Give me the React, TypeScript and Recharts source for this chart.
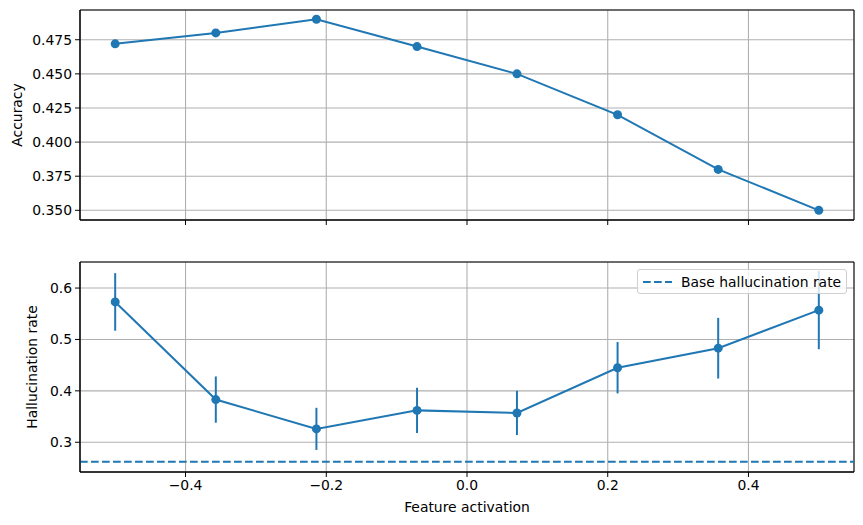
import React from 'react';
import {
  LineChart,
  Line,
  XAxis,
  YAxis,
  CartesianGrid,
  ErrorBar,
  ReferenceLine,
  ReferenceArea,
  Legend,
} from 'recharts';

const featureActivation = [-0.5, -0.357, -0.214, -0.071, 0.071, 0.214, 0.357, 0.5];
const accuracy = [0.472, 0.48, 0.49, 0.47, 0.45, 0.42, 0.38, 0.35];
const hallucinationRate = [0.573, 0.383, 0.326, 0.362, 0.357, 0.445, 0.483, 0.557];
const hallucinationErr = [0.056, 0.045, 0.041, 0.044, 0.043, 0.05, 0.059, 0.076];
const baseHallucinationRate = 0.262;

const xTicks = [-0.4, -0.2, 0, 0.2, 0.4];
const accuracyTicks = [0.35, 0.375, 0.4, 0.425, 0.45, 0.475];
const hallucinationTicks = [0.3, 0.4, 0.5, 0.6];

const xDomain: [number, number] = [-0.55, 0.55];
const accDomain: [number, number] = [0.3429, 0.4968];
const halDomain: [number, number] = [0.2421, 0.6507];

const topData = featureActivation.map((x, i) => ({ x, accuracy: accuracy[i] }));
const bottomData = featureActivation.map((x, i) => ({
  x,
  rate: hallucinationRate[i],
  err: hallucinationErr[i],
}));

const BLUE = '#1f77b4';
const FONT = 'DejaVu Sans, sans-serif';
const FS = 13.9;
const tickStyle = { fill: '#000', fontSize: FS, fontFamily: FONT };

const fmtX = (v: number) => v.toFixed(1).replace('-', '\u2212');

const LegendBox = () => (
  <div
    style={{
      width: 210,
      height: 25,
      border: '1px solid #d0d0d0',
      borderRadius: 3,
      background: 'rgba(255,255,255,0.8)',
      display: 'flex',
      alignItems: 'center',
      fontFamily: FONT,
      fontSize: FS,
      color: '#000',
      boxSizing: 'border-box',
    }}
  >
    <svg width={42} height={10} style={{ marginLeft: 4 }}>
      <line x1={1} y1={5} x2={30} y2={5} stroke={BLUE} strokeWidth={2} strokeDasharray="7.7 3.3" />
    </svg>
    <span style={{ marginLeft: -3 }}>Base hallucination rate</span>
  </div>
);

export default function App() {
  return (
    <div style={{ position: 'absolute', left: 0, top: 0, width: 863, height: 525, background: '#fff' }}>
      <div style={{ position: 'absolute', left: 0, top: 0 }}>
        <LineChart width={863} height={250} data={topData} margin={{ top: 10, right: 9, left: 0, bottom: 0 }}>
          <CartesianGrid stroke="#b0b0b0" strokeWidth={1.1} />
          <XAxis
            dataKey="x"
            type="number"
            domain={xDomain}
            ticks={xTicks}
            allowDataOverflow
            height={30}
            tickSize={5}
            axisLine={{ stroke: '#000' }}
            tickLine={{ stroke: '#000' }}
            tick={() => <g />}
          />
          <YAxis
            type="number"
            domain={accDomain}
            ticks={accuracyTicks}
            allowDataOverflow
            width={80}
            tickSize={5}
            tickMargin={3}
            axisLine={{ stroke: '#000' }}
            tickLine={{ stroke: '#000' }}
            tick={tickStyle}
            tickFormatter={(v: number) => v.toFixed(3)}
            label={{ value: 'Accuracy', angle: -90, position: 'center', dx: -23, style: { fill: '#000', fontSize: FS, fontFamily: FONT } }}
          />
          <ReferenceArea x1={xDomain[0]} x2={xDomain[1]} y1={accDomain[0]} y2={accDomain[1]} fill="none" stroke="#000" strokeWidth={1} ifOverflow="visible" />
          <Line
            dataKey="accuracy"
            stroke={BLUE}
            strokeWidth={2}
            dot={{ r: 4.5, fill: BLUE, stroke: BLUE, strokeWidth: 0 }}
            activeDot={false}
            isAnimationActive={false}
          />
        </LineChart>
      </div>
      <div style={{ position: 'absolute', left: 0, top: 250 }}>
        <LineChart width={863} height={275} data={bottomData} margin={{ top: 12, right: 9, left: 0, bottom: 0 }}>
          <CartesianGrid stroke="#b0b0b0" strokeWidth={1.1} />
          <XAxis
            dataKey="x"
            type="number"
            domain={xDomain}
            ticks={xTicks}
            allowDataOverflow
            height={53}
            tickSize={5}
            tickMargin={3}
            axisLine={{ stroke: '#000' }}
            tickLine={{ stroke: '#000' }}
            tick={tickStyle}
            tickFormatter={fmtX}
            label={{ value: 'Feature activation', position: 'insideBottom', offset: 13, style: { fill: '#000', fontSize: FS, fontFamily: FONT } }}
          />
          <YAxis
            type="number"
            domain={halDomain}
            ticks={hallucinationTicks}
            allowDataOverflow
            width={80}
            tickSize={5}
            tickMargin={3}
            axisLine={{ stroke: '#000' }}
            tickLine={{ stroke: '#000' }}
            tick={tickStyle}
            tickFormatter={(v: number) => v.toFixed(1)}
            label={{ value: 'Hallucination rate', angle: -90, position: 'center', dx: -8, style: { fill: '#000', fontSize: FS, fontFamily: FONT } }}
          />
          <ReferenceLine y={baseHallucinationRate} stroke={BLUE} strokeWidth={2} strokeDasharray="7.7 3.3" />
          <Line
            dataKey="rate"
            stroke={BLUE}
            strokeWidth={2}
            dot={{ r: 4.5, fill: BLUE, stroke: BLUE, strokeWidth: 0 }}
            activeDot={false}
            isAnimationActive={false}
          >
            <ErrorBar dataKey="err" direction="y" width={0} stroke={BLUE} strokeWidth={2} />
          </Line>
          <ReferenceArea x1={xDomain[0]} x2={xDomain[1]} y1={halDomain[0]} y2={halDomain[1]} fill="none" stroke="#000" strokeWidth={1} ifOverflow="visible" />
          <Legend
            layout="vertical"
            align="center"
            verticalAlign="middle"
            content={() => <LegendBox />}
            wrapperStyle={{ top: 19, left: 637, width: 210, height: 25 }}
          />
        </LineChart>
      </div>
    </div>
  );
}
